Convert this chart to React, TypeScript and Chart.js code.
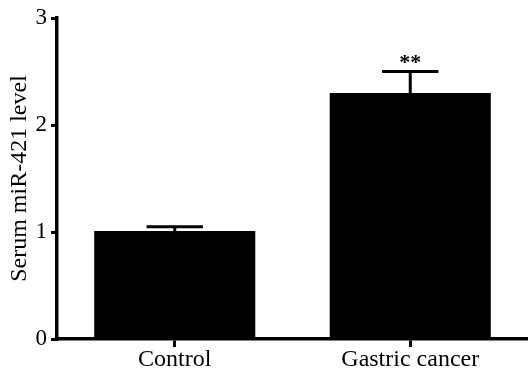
import React, { useEffect, useRef } from "react";
import { Chart, registerables } from "chart.js";

Chart.register(...registerables);

const categories = ["Control", "Gastric cancer"];
const means = [1.01, 2.3];
const errors = [0.04, 0.2];
const significance = ["", "**"];
const yTicks = [0, 1, 2, 3];

const FONT = "'Liberation Serif', 'Times New Roman', serif";

const errorBarPlugin = {
  id: "errorBars",
  afterDatasetsDraw(chart: any) {
    const ctx = chart.ctx;
    const meta = chart.getDatasetMeta(0);
    const y = chart.scales.y;
    ctx.save();
    ctx.strokeStyle = "#000";
    ctx.fillStyle = "#000";
    ctx.lineWidth = 3;
    meta.data.forEach((bar: any, i: number) => {
      const x = bar.x;
      const base = y.getPixelForValue(means[i]);
      const top = y.getPixelForValue(means[i] + errors[i]);
      const half = bar.width * 0.175;
      ctx.beginPath();
      ctx.moveTo(x, base);
      ctx.lineTo(x, top);
      ctx.moveTo(x - half, top);
      ctx.lineTo(x + half, top);
      ctx.stroke();
      if (significance[i]) {
        ctx.font = `bold 22px ${FONT}`;
        ctx.textAlign = "center";
        ctx.textBaseline = "alphabetic";
        ctx.fillText(significance[i], x, top - 3);
      }
    });
    ctx.restore();
  },
};

export default function App() {
  const ref = useRef<HTMLCanvasElement | null>(null);
  useEffect(() => {
    if (!ref.current) return;
    const chart = new Chart(ref.current, {
      type: "bar",
      data: {
        labels: categories,
        datasets: [
          {
            data: means,
            backgroundColor: "#000",
            borderColor: "#000",
            borderWidth: 0,
            barPercentage: 0.684,
            categoryPercentage: 1,
          },
        ],
      },
      options: {
        responsive: false,
        animation: false,
        layout: { padding: { top: 18, left: 0, right: 0, bottom: 0 } },
        plugins: {
          legend: { display: false },
          tooltip: { enabled: false },
        },
        scales: {
          x: {
            offset: true,
            grid: {
              display: true,
              offset: false,
              drawOnChartArea: false,
              drawTicks: true,
              tickLength: 8,
              lineWidth: 3,
              color: "#000",
            },
            border: { display: true, color: "#000", width: 3.5 },
            ticks: {
              color: "#000",
              font: { family: FONT, size: 24 },
              padding: -2,
              maxRotation: 0,
            },
            afterFit(scale: any) {
              scale.height = 31;
            },
          },
          y: {
            min: 0,
            max: 3,
            afterBuildTicks(scale: any) {
              scale.ticks = yTicks.map((v) => ({ value: v }));
            },
            grid: {
              display: true,
              drawOnChartArea: false,
              drawTicks: true,
              tickLength: 6,
              lineWidth: 3,
              color: "#000",
            },
            border: { display: true, color: "#000", width: 3.5 },
            ticks: {
              color: "#000",
              font: { family: FONT, size: 23 },
              padding: 4,
            },
            title: {
              display: true,
              text: "Serum miR-421 level",
              color: "#000",
              font: { family: FONT, size: 24 },
              padding: { top: 5, bottom: 0 },
            },
            afterFit(scale: any) {
              scale.width = 57;
            },
          },
        },
      },
      plugins: [errorBarPlugin],
    });
    return () => chart.destroy();
  }, []);
  return (
    <div style={{ position: "absolute", left: 0, top: 0, width: 528, height: 370, background: "#fff" }}>
      <canvas ref={ref} width={528} height={370} />
    </div>
  );
}
